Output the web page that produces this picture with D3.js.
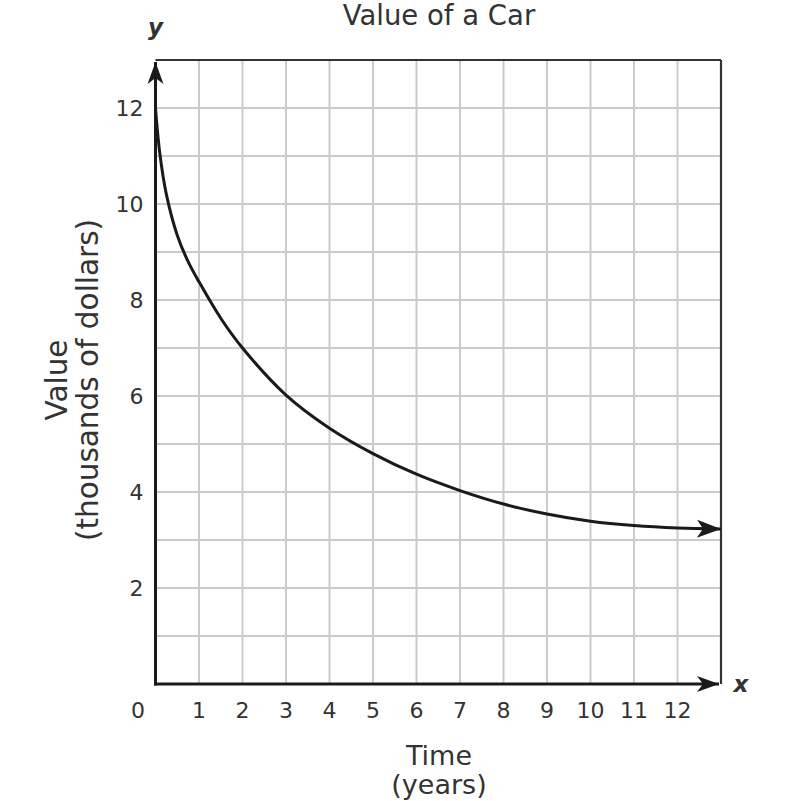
<!DOCTYPE html>
<html>
<head>
<meta charset="utf-8">
<script src="https://cdn.jsdelivr.net/npm/d3@7"></script>
<style>
  html, body { margin: 0; padding: 0; background: #fff; }
  svg { display: block; }
  text { font-family: "DejaVu Sans", Verdana, sans-serif; fill: #333; }
</style>
</head>
<body>
<svg id="chart" width="800" height="801"></svg>
<script>
// ---- data ----
const title = "Value of a Car";
const xLabelLines = ["Time", "(years)"];
const yLabelLines = ["Value", "(thousands of dollars)"];
const xTicks = [1, 2, 3, 4, 5, 6, 7, 8, 9, 10, 11, 12];
const yTicks = [2, 4, 6, 8, 10, 12];
const gridX = [1, 2, 3, 4, 5, 6, 7, 8, 9, 10, 11, 12];
const gridY = [1, 2, 3, 4, 5, 6, 7, 8, 9, 10, 11, 12];
const years = [0, 0.1, 0.25, 0.5, 0.75, 1, 1.5, 2, 3, 4, 5, 6, 7, 8, 9, 10, 11, 12, 13];
const values = [12, 11.05, 10.2, 9.35, 8.8, 8.38, 7.62, 7.0, 6.02, 5.33, 4.8, 4.37, 4.03, 3.75, 3.54, 3.39, 3.3, 3.25, 3.23];

// ---- scales ----
const svg = d3.select("#chart");
const x = d3.scaleLinear().domain([0, 13]).range([155.5, 721]);
const y = d3.scaleLinear().domain([0, 13]).range([684, 60]);

// markers
const defs = svg.append("defs");
function marker(id, len, half, notch) {
  defs.append("marker")
    .attr("id", id)
    .attr("markerUnits", "userSpaceOnUse")
    .attr("viewBox", `${-len - 2} ${-half - 2} ${len + 4} ${2 * half + 4}`)
    .attr("refX", 0).attr("refY", 0)
    .attr("markerWidth", len + 4).attr("markerHeight", 2 * half + 4)
    .attr("orient", "auto")
    .append("path")
    .attr("d", `M0,0 L${-len},${-half} L${-len + notch},0 L${-len},${half} Z`)
    .attr("fill", "#1a1a1a");
}
marker("arrAxis", 22, 8, 6);
marker("arrCurve", 24, 9, 6);

// grid
svg.append("g").selectAll("line").data(gridX).join("line")
  .attr("x1", d => x(d)).attr("x2", d => x(d))
  .attr("y1", y(0)).attr("y2", y(13))
  .attr("stroke", "#cbcbcb").attr("stroke-width", 2);
svg.append("g").selectAll("line").data(gridY).join("line")
  .attr("y1", d => y(d)).attr("y2", d => y(d))
  .attr("x1", x(0)).attr("x2", x(13))
  .attr("stroke", "#cbcbcb").attr("stroke-width", 2);

// top and right borders
svg.append("line").attr("x1", x(0)).attr("x2", x(13)).attr("y1", y(13)).attr("y2", y(13))
  .attr("stroke", "#333").attr("stroke-width", 2.2);
svg.append("line").attr("x1", x(13)).attr("x2", x(13)).attr("y1", y(13)).attr("y2", y(0))
  .attr("stroke", "#333").attr("stroke-width", 2.2);

// axes
svg.append("line").attr("x1", x(0)).attr("x2", x(0)).attr("y1", y(0) + 1.5).attr("y2", y(13) + 2)
  .attr("stroke", "#1a1a1a").attr("stroke-width", 3).attr("marker-end", "url(#arrAxis)");
svg.append("line").attr("x1", x(0) - 1.5).attr("x2", x(13) - 2).attr("y1", y(0)).attr("y2", y(0))
  .attr("stroke", "#1a1a1a").attr("stroke-width", 3).attr("marker-end", "url(#arrAxis)");

// tick labels
svg.append("g").selectAll("text").data(yTicks).join("text")
  .attr("x", x(0) - 12).attr("y", d => y(d))
  .attr("dy", "0.37em").attr("text-anchor", "end")
  .attr("font-size", 22).text(d => d);
svg.append("g").selectAll("text").data(xTicks).join("text")
  .attr("x", d => x(d)).attr("y", 718)
  .attr("text-anchor", "middle")
  .attr("font-size", 22).text(d => d);
svg.append("text").attr("x", 138).attr("y", 718).attr("text-anchor", "middle")
  .attr("font-size", 22).text("0");

// axis letters
svg.append("text").attr("x", 155.5).attr("y", 35).attr("text-anchor", "middle")
  .attr("font-size", 23).attr("font-style", "italic").attr("font-weight", "bold").text("y");
svg.append("text").attr("x", 741).attr("y", 692).attr("text-anchor", "middle")
  .attr("font-size", 23).attr("font-style", "italic").attr("font-weight", "bold").text("x");

// title
svg.append("text").attr("x", 439).attr("y", 25).attr("text-anchor", "middle")
  .attr("font-size", 27.5).text(title);

// axis titles
svg.append("g").selectAll("text").data(xLabelLines).join("text")
  .attr("x", 439).attr("y", (d, i) => 765 + i * 29)
  .attr("text-anchor", "middle").attr("font-size", 27).text(d => d);
svg.append("g").attr("transform", "translate(0,380) rotate(-90)")
  .selectAll("text").data(yLabelLines).join("text")
  .attr("x", 0).attr("y", (d, i) => 67 + i * 30.5)
  .attr("text-anchor", "middle").attr("font-size", 29.5).text(d => d);

// curve
const pts = years.map((d, i) => [d, values[i]]);
const line = d3.line().x(d => x(d[0])).y(d => y(d[1])).curve(d3.curveCatmullRom.alpha(0.5));
svg.append("path").attr("d", line(pts))
  .attr("fill", "none").attr("stroke", "#1a1a1a").attr("stroke-width", 3)
  .attr("marker-end", "url(#arrCurve)");
</script>
</body>
</html>
